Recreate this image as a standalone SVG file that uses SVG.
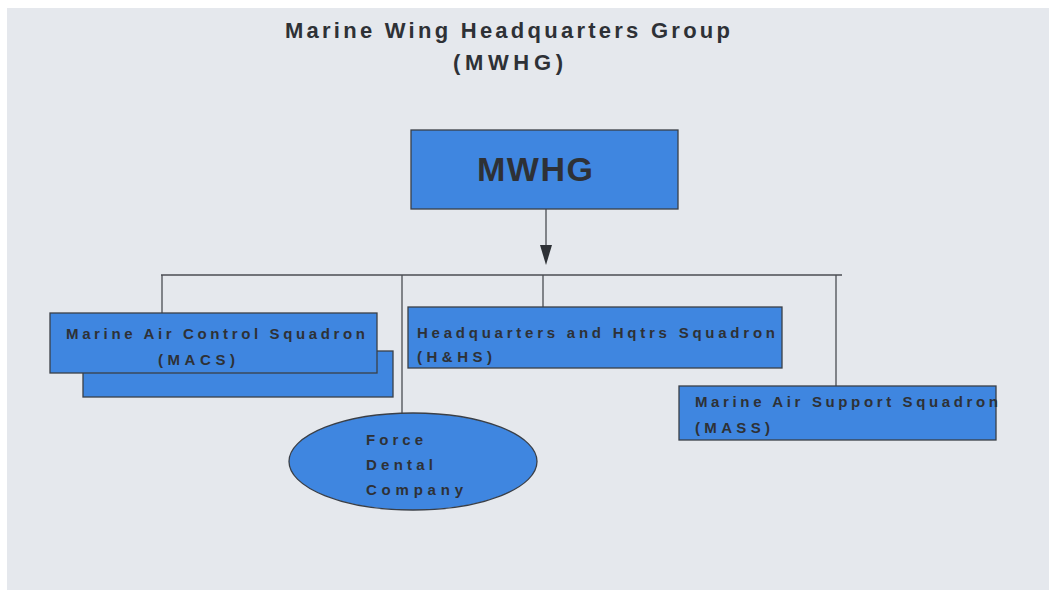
<svg xmlns="http://www.w3.org/2000/svg" width="1049" height="590" viewBox="0 0 1049 590">
<style>
.bg{fill:#e5e8ed}
.box{fill:#3f86e0;stroke:#3a3f47;stroke-width:1.3}
.t{font-family:"Liberation Sans Narrow","Arial Narrow","Liberation Sans",Arial,sans-serif;font-weight:bold;fill:#2e3136}
.ln{stroke:#4a4d52;stroke-width:1.3;fill:none}
</style>
<rect x="0" y="0" width="1049" height="590" fill="#ffffff"/>
<rect class="bg" x="7" y="8" width="1042" height="582"/>
<g id="title">
<text class="t" x="285" y="38" font-size="22" textLength="445" lengthAdjust="spacing">Marine Wing Headquarters Group</text>
<text class="t" x="453" y="70" font-size="22" textLength="110" lengthAdjust="spacing">(MWHG)</text>
</g>
<g id="connectors">
<line class="ln" x1="546" y1="209" x2="546" y2="245"/>
<path d="M540,245 L552,245 L546,265 Z" fill="#2e3136"/>
<line class="ln" x1="161" y1="275" x2="842" y2="275"/>
<line class="ln" x1="162" y1="275" x2="162" y2="313"/>
<line class="ln" x1="402" y1="275" x2="402" y2="413"/>
<line class="ln" x1="543" y1="275" x2="543" y2="307"/>
<line class="ln" x1="836" y1="275" x2="836" y2="386"/>
</g>
<g id="mwhg">
<rect class="box" x="411" y="130" width="267" height="79"/>
<text class="t" x="477" y="181" font-size="34" textLength="116" lengthAdjust="spacing">MWHG</text>
</g>
<g id="macs">
<rect class="box" x="83" y="351" width="310" height="46"/>
<rect class="box" x="50" y="313" width="327" height="60"/>
<text class="t" x="66" y="339" font-size="15" textLength="299" lengthAdjust="spacing">Marine Air Control Squadron</text>
<text class="t" x="158" y="365" font-size="15" textLength="77" lengthAdjust="spacing">(MACS)</text>
</g>
<g id="hhs">
<rect class="box" x="408" y="307" width="374" height="61"/>
<text class="t" x="417" y="338" font-size="15" textLength="358" lengthAdjust="spacing">Headquarters and Hqtrs Squadron</text>
<text class="t" x="417" y="362" font-size="15" textLength="75" lengthAdjust="spacing">(H&amp;HS)</text>
</g>
<g id="mass">
<rect class="box" x="679" y="386" width="317" height="54"/>
<text class="t" x="695" y="407" font-size="15" textLength="303" lengthAdjust="spacing">Marine Air Support Squadron</text>
<text class="t" x="695" y="433" font-size="15" textLength="75" lengthAdjust="spacing">(MASS)</text>
</g>
<g id="dental">
<ellipse class="box" cx="413" cy="461.5" rx="124" ry="48.5"/>
<text class="t" x="366" y="445" font-size="15" textLength="57" lengthAdjust="spacing">Force</text>
<text class="t" x="366" y="470" font-size="15" textLength="67" lengthAdjust="spacing">Dental</text>
<text class="t" x="366" y="495" font-size="15" textLength="97" lengthAdjust="spacing">Company</text>
</g>
</svg>
